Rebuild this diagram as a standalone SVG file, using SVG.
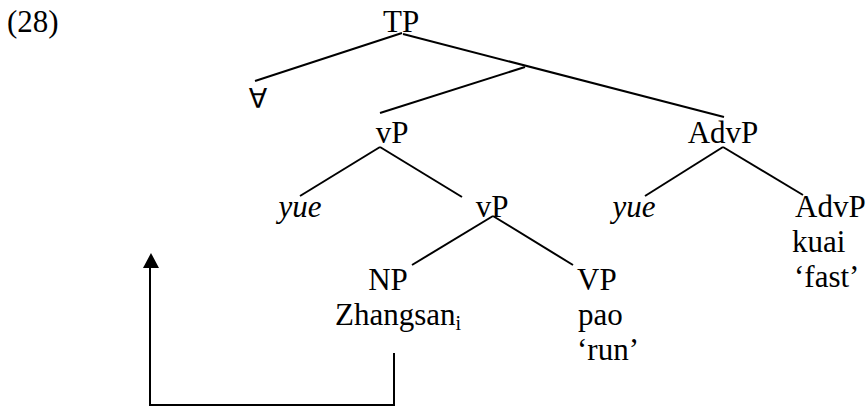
<svg xmlns="http://www.w3.org/2000/svg" width="867" height="407" viewBox="0 0 867 407">
<defs>
<style>
text{font-family:"Liberation Serif","Times New Roman",serif;font-size:31px;fill:#000}
.it{font-style:italic}
.sym{font-family:"DejaVu Sans",sans-serif;font-size:27px}
.e{stroke:#000;stroke-width:2;fill:none}
</style>
<marker id="ah" markerWidth="8" markerHeight="8" refX="4" refY="0" orient="auto" markerUnits="userSpaceOnUse" viewBox="-8 -16 16 16">
</marker>
</defs>
<rect width="867" height="407" fill="#fff"/>
<g id="label"><text x="7" y="32">(28)</text></g>
<g id="TP"><text x="383" y="32">TP</text></g>
<g id="forall"><text class="sym" x="258" y="108" text-anchor="middle">∀</text></g>
<g id="vP1"><text x="392" y="143" text-anchor="middle">vP</text></g>
<g id="yue1"><text class="it" x="300" y="217" text-anchor="middle">yue</text></g>
<g id="vP2"><text x="492" y="217" text-anchor="middle">vP</text></g>
<g id="NP"><text x="388" y="290" text-anchor="middle">NP</text><text x="335" y="325">Zhangsan<tspan font-size="20" dy="5">i</tspan></text></g>
<g id="VP"><text x="577" y="290">VP</text><text x="578" y="325">pao</text><text x="577" y="360">‘run’</text></g>
<g id="AdvP1"><text x="723" y="143" text-anchor="middle">AdvP</text></g>
<g id="yue2"><text class="it" x="634" y="217" text-anchor="middle">yue</text></g>
<g id="AdvP2"><text x="795" y="217">AdvP</text><text x="792" y="252">kuai</text><text x="794" y="287">‘fast’</text></g>
<g id="connectors">
<line class="e" x1="402" y1="33" x2="255" y2="81"/>
<line class="e" x1="403" y1="34" x2="724" y2="117"/>
<line class="e" x1="525" y1="67" x2="380" y2="113"/>
<line class="e" x1="380" y1="147" x2="300" y2="196"/>
<line class="e" x1="380" y1="147" x2="462" y2="197"/>
<line class="e" x1="493" y1="216" x2="412" y2="265"/>
<line class="e" x1="493" y1="216" x2="573" y2="265"/>
<line class="e" x1="723" y1="147" x2="645" y2="196"/>
<line class="e" x1="723" y1="147" x2="803" y2="195"/>
<polyline class="e" points="394,353 394,405 150,405 150,266"/>
<polygon points="151,253 143,268 159,268" fill="#000"/>
</g>
</svg>
